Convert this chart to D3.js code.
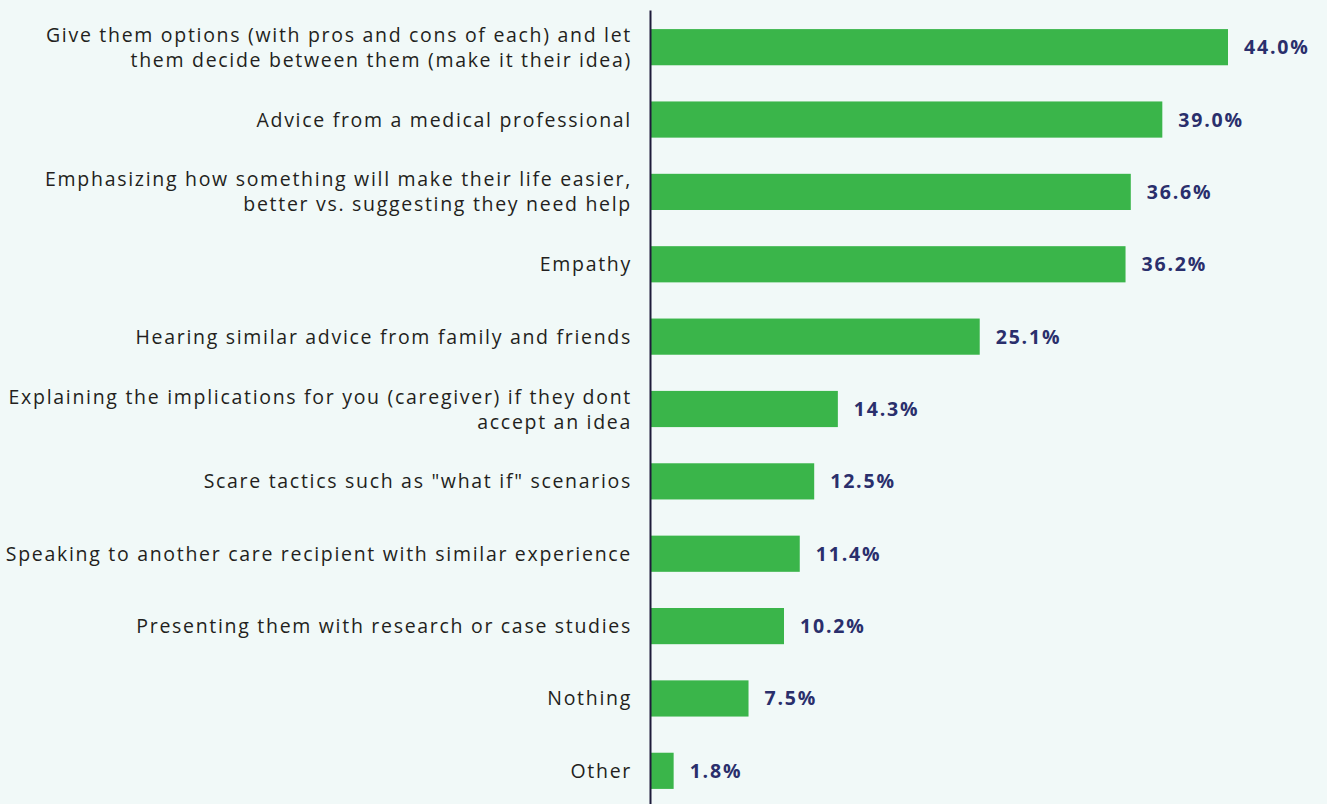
<!DOCTYPE html>
<html>
<head>
<meta charset="utf-8">
<script src="https://cdn.jsdelivr.net/npm/d3@7"></script>
<style>
  html, body { margin: 0; padding: 0; background: #f1f9f8; }
  svg { display: block; }
</style>
</head>
<body>
<svg id="chart" width="1327" height="804"></svg>
<script>
// Responses: what helps persuade a care recipient
const categories = [
  ["Give them options (with pros and cons of each) and let", "them decide between them (make it their idea)"],
  ["Advice from a medical professional"],
  ["Emphasizing how something will make their life easier,", "better vs. suggesting they need help"],
  ["Empathy"],
  ["Hearing similar advice from family and friends"],
  ["Explaining the implications for you (caregiver) if they dont", "accept an idea"],
  ["Scare tactics such as \"what if\" scenarios"],
  ["Speaking to another care recipient with similar experience"],
  ["Presenting them with research or case studies"],
  ["Nothing"],
  ["Other"]
];
const values = [44.0, 39.0, 36.6, 36.2, 25.1, 14.3, 12.5, 11.4, 10.2, 7.5, 1.8];

const W = 1327, H = 804;
const axisX = 650;
const svg = d3.select("#chart");

const idx = d3.range(categories.length);
const x = d3.scaleLinear().domain([0, 44]).range([axisX, 1228]);
const y = d3.scaleBand().domain(idx).range([11, 807]).paddingInner(0.5).paddingOuter(0.25);

// Bars
svg.append("g").selectAll("rect")
  .data(idx)
  .join("rect")
  .attr("x", x(0))
  .attr("y", i => y(i))
  .attr("width", i => x(values[i]) - x(0))
  .attr("height", y.bandwidth())
  .attr("fill", "#3ab54a");

// Value labels
svg.append("g").selectAll("text")
  .data(idx)
  .join("text")
  .attr("x", i => x(values[i]) + 16)
  .attr("y", i => y(i) + y.bandwidth() / 2)
  .attr("dy", "0.36em")
  .attr("font-family", "'Open Sans', sans-serif")
  .attr("font-weight", 700)
  .attr("font-size", 19.5)
  .attr("letter-spacing", 1.8)
  .attr("fill", "#2a2f6c")
  .text(i => values[i].toFixed(1) + "%");

// Category labels (right aligned, wrapped to one or two lines)
const lineH = 25;
const labels = svg.append("g").selectAll("text")
  .data(idx)
  .join("text")
  .attr("text-anchor", "end")
  .attr("font-family", "'Open Sans', sans-serif")
  .attr("font-size", 19.5)
  .attr("letter-spacing", 1.7)
  .attr("fill", "#231f20")
  .attr("transform", i => `translate(632,${y(i) + y.bandwidth() / 2})`);

labels.selectAll("tspan")
  .data(i => categories[i].map((t, k, arr) => ({ t, k, n: arr.length })))
  .join("tspan")
  .attr("x", 0)
  .attr("y", d => (d.k - (d.n - 1) / 2) * lineH)
  .attr("dy", "0.36em")
  .text(d => d.t);

// Vertical baseline axis
const yAxis = d3.axisLeft(d3.scaleLinear().range([10, H])).ticks(0).tickSize(0).tickFormat("");
svg.append("g")
  .attr("transform", `translate(${axisX},0)`)
  .call(yAxis)
  .call(g => g.select(".domain").attr("stroke", "#1e1b3a").attr("stroke-width", 2));
</script>
</body>
</html>
